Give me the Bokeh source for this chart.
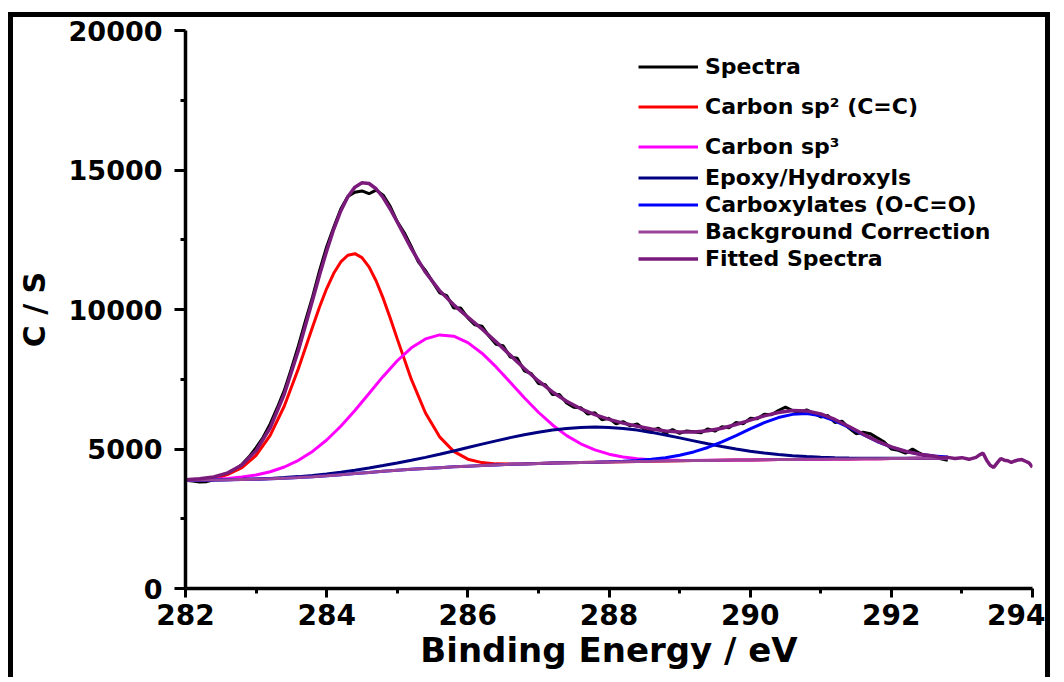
from bokeh.plotting import figure
from bokeh.models import Legend, LegendItem, FixedTicker
from bokeh.embed import file_html
from bokeh.resources import INLINE

FONT = "DejaVu Sans"

# ---------------- data ----------------
x_major = [282, 284, 286, 288, 290, 292, 294]
x_minor = [283, 285, 287, 289, 291, 293]
y_major = [0, 5000, 10000, 15000, 20000]
y_minor = [2500, 7500, 12500, 17500]

# energy grid for the fitted components (eV)
energy = [282.0, 282.2, 282.4, 282.6, 282.8, 283.0, 283.2, 283.4, 283.6, 283.8,
          284.0, 284.2, 284.4, 284.6, 284.8, 285.0, 285.2, 285.4, 285.6, 285.8,
          286.0, 286.2, 286.4, 286.6, 286.8, 287.0, 287.2, 287.4, 287.6, 287.8,
          288.0, 288.2, 288.4, 288.6, 288.8, 289.0, 289.2, 289.4, 289.6, 289.8,
          290.0, 290.2, 290.4, 290.6, 290.8, 291.0, 291.2, 291.4, 291.6, 291.8,
          292.0, 292.2, 292.4, 292.6, 292.8]

background = [3880, 3885, 3890, 3895, 3905, 3915, 3930, 3950, 3975, 4005,
              4040, 4080, 4120, 4160, 4200, 4235, 4270, 4300, 4330, 4360,
              4385, 4410, 4430, 4450, 4465, 4480, 4495, 4505, 4515, 4525,
              4535, 4545, 4555, 4562, 4570, 4577, 4584, 4590, 4596, 4602,
              4608, 4614, 4620, 4626, 4631, 4636, 4641, 4646, 4650, 4654,
              4658, 4662, 4665, 4668, 4671]

sp2_energy = [282.0, 282.2, 282.4, 282.6, 282.8, 283.0, 283.2, 283.4, 283.6, 283.8,
              283.9, 284.0, 284.1, 284.2, 284.3, 284.4, 284.5, 284.6, 284.7, 284.8,
              284.9, 285.0, 285.2, 285.4, 285.6, 285.8,
              286.0, 286.2, 286.4, 286.6, 286.8, 287.0, 287.2, 287.4, 287.6, 287.8,
              288.0, 288.2, 288.4, 288.6, 288.8, 289.0, 289.2, 289.4, 289.6, 289.8,
              290.0, 290.2, 290.4, 290.6, 290.8, 291.0, 291.2, 291.4, 291.6, 291.8,
              292.0, 292.2, 292.4, 292.6, 292.8]

sp2 = [3890, 3915, 3970, 4089, 4332, 4771, 5491, 6541, 7886, 9376,
       10098, 10750, 11298, 11705, 11944, 12001, 11859, 11526, 11029, 10406,
       9696, 8947, 7495, 6289, 5436, 4914,
       4635, 4512, 4467, 4462, 4469, 4481, 4495, 4505, 4515, 4525,
       4535, 4545, 4555, 4562, 4570, 4577, 4584, 4590, 4596, 4602,
       4608, 4614, 4620, 4626, 4631, 4636, 4641, 4646, 4650, 4654,
       4658, 4662, 4665, 4668, 4671]

sp3 = [3887, 3899, 3917, 3945, 3994, 4069, 4185, 4355, 4594, 4914,
       5322, 5817, 6382, 6990, 7602, 8163, 8628, 8946, 9089, 9043,
       8813, 8434, 7942, 7395, 6838, 6317, 5861, 5481, 5186, 4968,
       4815, 4716, 4655, 4618, 4600, 4593, 4592, 4594, 4596, 4602,
       4608, 4614, 4620, 4626, 4631, 4636, 4641, 4646, 4650, 4654,
       4658, 4662, 4665, 4668, 4671]

epoxy = [3881, 3887, 3893, 3900, 3913, 3927, 3947, 3975, 4010, 4054,
         4108, 4171, 4242, 4320, 4406, 4496, 4596, 4699, 4811, 4931,
         5051, 5174, 5292, 5407, 5509, 5601, 5678, 5733, 5769, 5785,
         5774, 5737, 5677, 5595, 5501, 5398, 5292, 5187, 5089, 5000,
         4922, 4857, 4803, 4762, 4729, 4705, 4689, 4679, 4672, 4668,
         4667, 4668, 4668, 4670, 4672]

carboxyl = [3880, 3885, 3890, 3895, 3905, 3915, 3930, 3950, 3975, 4005,
            4040, 4080, 4120, 4160, 4200, 4235, 4270, 4300, 4330, 4360,
            4385, 4410, 4430, 4450, 4465, 4480, 4495, 4506, 4517, 4529,
            4544, 4563, 4591, 4629, 4688, 4774, 4895, 5055, 5253, 5480,
            5719, 5944, 6127, 6241, 6268, 6187, 6011, 5772, 5513, 5269,
            5067, 4915, 4811, 4746, 4710]

fit_energy = [282.0, 282.2, 282.4, 282.6, 282.8, 283.0, 283.2, 283.4, 283.6, 283.8,
              283.9, 284.0, 284.1, 284.2, 284.3, 284.4, 284.5, 284.6, 284.7, 284.8,
              284.9, 285.0, 285.2, 285.4, 285.6, 285.8,
              286.0, 286.2, 286.4, 286.6, 286.8, 287.0, 287.2, 287.4, 287.6, 287.8,
              288.0, 288.2, 288.4, 288.6, 288.8, 289.0, 289.2, 289.4, 289.6, 289.8,
              290.0, 290.2, 290.4, 290.6, 290.8, 291.0, 291.2, 291.4, 291.6, 291.8,
              292.0, 292.2, 292.4, 292.6, 292.7, 292.8, 292.9, 293.0, 293.1, 293.2,
              293.25, 293.3, 293.35, 293.4, 293.45, 293.5, 293.55, 293.6, 293.65, 293.7,
              293.75, 293.8, 293.85, 293.9, 293.95, 294.0]

fitted = [3898, 3931, 4000, 4144, 4429, 4937, 5763, 6971, 8540, 10334,
          11241, 12100, 12876, 13533, 14042, 14385, 14541, 14516, 14329, 14014,
          13601, 13136, 12179, 11334, 10676, 10168,
          9729, 9300, 8841, 8364, 7886, 7439, 7044, 6710, 6442, 6232,
          6063, 5926, 5813, 5718, 5649, 5611, 5611, 5656, 5746, 5878,
          6033, 6187, 6310, 6377, 6366, 6256, 6059, 5805, 5535, 5283,
          5076, 4921, 4814, 4748, 4690, 4700, 4660, 4690, 4630, 4700,
          4790, 4850, 4600, 4420, 4340, 4500, 4660, 4600, 4580, 4520,
          4570, 4610, 4620, 4560, 4500, 4350]

spec_energy = [282.0, 282.1, 282.2, 282.3, 282.4, 282.5, 282.6, 282.7, 282.8, 282.9,
               283.0, 283.1, 283.2, 283.3, 283.4, 283.5, 283.6, 283.7, 283.8, 283.9,
               284.0, 284.1, 284.2, 284.3, 284.4, 284.5, 284.6, 284.7, 284.8, 284.9,
               285.0, 285.1, 285.2, 285.3, 285.4, 285.5, 285.6, 285.7, 285.8, 285.9,
               286.0, 286.1, 286.2, 286.3, 286.4, 286.5, 286.6, 286.7, 286.8, 286.9,
               287.0, 287.1, 287.2, 287.3, 287.4, 287.5, 287.6, 287.7, 287.8, 287.9,
               288.0, 288.1, 288.2, 288.3, 288.4, 288.5, 288.6, 288.7, 288.8, 288.9,
               289.0, 289.1, 289.2, 289.3, 289.4, 289.5, 289.6, 289.7, 289.8, 289.9,
               290.0, 290.1, 290.2, 290.3, 290.4, 290.5, 290.6, 290.7, 290.8, 290.9,
               291.0, 291.1, 291.2, 291.3, 291.4, 291.5, 291.6, 291.7, 291.8, 291.9,
               292.0, 292.1, 292.2, 292.3, 292.4, 292.5, 292.6, 292.7, 292.8]

spectra = [3880, 3850, 3820, 3830, 3900, 4010, 4120, 4260, 4450, 4720,
           5050, 5420, 5900, 6480, 7100, 7880, 8700, 9600, 10450, 11400,
           12250, 12950, 13600, 14050, 14200, 14250, 14150, 14280, 14100, 13700,
           13150, 12750, 12250, 11700, 11400, 11000, 10600, 10500, 10050, 10050,
           9700, 9450, 9400, 9050, 8750, 8700, 8300, 8250, 7800, 7700,
           7350, 7300, 6950, 6950, 6650, 6500, 6480, 6250, 6300, 6050,
           6100, 5900, 5980, 5830, 5900, 5700, 5650, 5750, 5560, 5700,
           5560, 5650, 5620, 5580, 5720, 5640, 5800, 5760, 5950, 5900,
           6100, 6080, 6250, 6230, 6380, 6500, 6380, 6300, 6400, 6280,
           6150, 6200, 5950, 6000, 5750, 5550, 5600, 5550, 5400, 5250,
           5000, 4950, 4850, 5000, 4850, 4720, 4700, 4650, 4600]

labels = ["Spectra", "Carbon sp\u00b2 (C=C)", "Carbon sp\u00b3", "Epoxy/Hydroxyls",
          "Carboxylates (O-C=O)", "Background Correction", "Fitted Spectra"]
colors = ["#000000", "#ff0000", "#ff00ff", "#000080", "#0000ff", "#9a449a", "#7a1a7a"]

# ---------------- figure ----------------
p = figure(width=1042, height=665, x_range=(282, 294), y_range=(0, 20000),
           output_backend="svg", toolbar_location=None,
           min_border_left=172, min_border_right=23, min_border_top=13, min_border_bottom=94)
p.styles = {"margin-left": "8px", "margin-top": "12px",
            "border-left": "5px solid black", "border-top": "5px solid black",
            "border-right": "5px solid black"}
p.outline_line_color = None
p.xgrid.visible = False
p.ygrid.visible = False
p.background_fill_color = "white"
p.border_fill_color = "white"

r_spec = p.line(spec_energy, spectra, line_color=colors[0], line_width=3)
r_sp2 = p.line(sp2_energy, sp2, line_color=colors[1], line_width=3)
r_sp3 = p.line(energy, sp3, line_color=colors[2], line_width=3)
r_epo = p.line(energy, epoxy, line_color=colors[3], line_width=3)
r_car = p.line(energy, carboxyl, line_color=colors[4], line_width=3)
r_bg = p.line(energy, background, line_color=colors[5], line_width=3)
r_fit = p.line(fit_energy, fitted, line_color=colors[6], line_width=3.5)

renderers = [r_spec, r_sp2, r_sp3, r_epo, r_car, r_bg, r_fit]

# axes
p.xaxis.ticker = FixedTicker(ticks=x_major, minor_ticks=x_minor)
p.yaxis.ticker = FixedTicker(ticks=y_major, minor_ticks=y_minor)
for ax in (p.xaxis[0], p.yaxis[0]):
    ax.axis_line_width = 3.5
    ax.axis_line_color = "black"
    ax.major_tick_line_width = 3
    ax.minor_tick_line_width = 3
    ax.major_tick_in = 0
    ax.minor_tick_in = 0
    ax.major_label_text_font = FONT
    ax.major_label_text_font_style = "bold"
    ax.major_label_text_color = "black"
    ax.axis_label_text_font = FONT
    ax.axis_label_text_font_style = "bold"
    ax.axis_label_text_color = "black"

p.xaxis.axis_label = "Binding Energy / eV"
p.xaxis.axis_label_text_font_size = "34px"
p.xaxis.major_label_text_font_size = "28px"
p.xaxis.major_tick_out = 9
p.xaxis.minor_tick_out = 5
p.xaxis.major_label_standoff = 6
p.xaxis.axis_label_standoff = 2

p.yaxis.axis_label = "C / S"
p.yaxis.axis_label_text_font_size = "30px"
p.yaxis.major_label_text_font_size = "27px"
p.yaxis.major_tick_out = 11
p.yaxis.minor_tick_out = 5
p.yaxis.major_label_standoff = 12
p.yaxis.axis_label_standoff = 14


def add_legend(idx_list, vy):
    items = [LegendItem(label=labels[i], renderers=[renderers[i]]) for i in idx_list]
    lg = Legend(items=items, location=(453, vy), orientation="vertical",
                padding=0, margin=0, spacing=2, label_height=21, glyph_height=21,
                glyph_width=60, label_standoff=7,
                label_text_font=FONT, label_text_font_style="bold",
                label_text_font_size="22px", label_text_color="black",
                border_line_color=None, background_fill_alpha=0)
    p.add_layout(lg)


add_legend([0], 509)
add_legend([1], 469)
add_legend([2], 429)
add_legend([3, 4, 5, 6], 317)

open("out.html", "w").write(file_html(p, INLINE))
